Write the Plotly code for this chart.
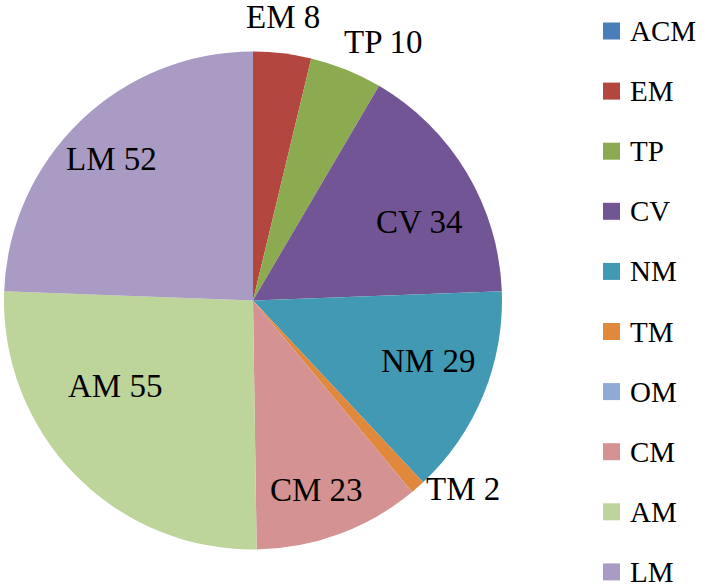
import math
import plotly.graph_objects as go

# ---- data ----
categories = ["ACM", "EM", "TP", "CV", "NM", "TM", "OM", "CM", "AM", "LM"]
counts = [0, 8, 10, 34, 29, 2, 0, 23, 55, 52]
colors = ["#4A7EBB", "#B3463F", "#8CAA4F", "#725594", "#4199B3",
          "#E0883B", "#8FAAD6", "#D49392", "#BDD49B", "#A99BC3"]
outside_labels = ["EM", "TP", "TM"]

# ---- layout constants (pixels) ----
W, H = 709, 587
CX, CY, R = 253, 300.5, 249
FONT = "Liberation Serif"
# small pixel nudges of the data-label text, mimicking the original placement
label_nudge = {"EM": (0, -6), "TP": (-8, 2), "TM": (0, -6), "CM": (-2, 12),
               "CV": (4, 19), "NM": (0, -12), "LM": (-10, -5), "AM": (-3, -47)}

fig = go.Figure()
fig.add_trace(go.Pie(
    labels=categories, values=counts, sort=False, direction="clockwise",
    rotation=0, textinfo="none", showlegend=False,
    marker=dict(colors=colors, line=dict(width=0)),
    domain=dict(x=[(CX - R) / W, (CX + R) / W],
                y=[(H - CY - R) / H, (H - CY + R) / H]),
))

def px_to_paper(x, y):
    return x / W, (H - y) / H

annotations = []
shapes = []
total = sum(counts)
cum = 0
for name, v in zip(categories, counts):
    if v == 0:
        cum += v
        continue
    th = math.radians((cum + v / 2) / total * 360)
    cum += v
    s, c = math.sin(th), math.cos(th)
    txt = f"{name} {v}"
    if name in outside_labels:
        g = 10
        x = CX + (R + g) * s
        y = CY - (R + g) * c
        xa = "center" if abs(s) < 0.3 else ("left" if s > 0 else "right")
        ya = "bottom" if c > 0.5 else ("top" if c < -0.9 else "middle")
    else:
        rf = 0.76
        x = CX + rf * R * s
        y = CY - rf * R * c
        xa, ya = "center", "middle"
    dx, dy = label_nudge.get(name, (0, 0))
    px_, py_ = px_to_paper(x + dx, y + dy)
    annotations.append(dict(x=px_, y=py_, xref="paper", yref="paper",
                            text=txt, showarrow=False, xanchor=xa, yanchor=ya,
                            font=dict(family=FONT, size=33, color="black")))

# ---- legend (manual) ----
LEG_Y0, LEG_DY = 31, 60.1
SQ_X0, SQ_X1, SQ_H = 603, 620, 17
TXT_X = 628
for i, (name, col) in enumerate(zip(categories, colors)):
    yc = LEG_Y0 + i * LEG_DY
    x0, y0 = px_to_paper(SQ_X0, yc - SQ_H / 2)
    x1, y1 = px_to_paper(SQ_X1, yc + SQ_H / 2)
    shapes.append(dict(type="rect", xref="paper", yref="paper",
                       x0=x0, x1=x1, y0=y1, y1=y0,
                       fillcolor=col, line=dict(width=0)))
    tx, ty = px_to_paper(TXT_X, yc)
    annotations.append(dict(x=tx, y=ty, xref="paper", yref="paper",
                            text=name, showarrow=False, xanchor="left",
                            yanchor="middle",
                            font=dict(family=FONT, size=29, color="black")))

fig.update_layout(
    width=W, height=H, margin=dict(l=0, r=0, t=0, b=0),
    paper_bgcolor="white", plot_bgcolor="white",
    annotations=annotations, shapes=shapes,
)
fig.write_html("out.html",
               config={"displayModeBar": False},
               post_script="document.body.style.margin='0';"
                           "document.body.style.overflow='hidden';")
